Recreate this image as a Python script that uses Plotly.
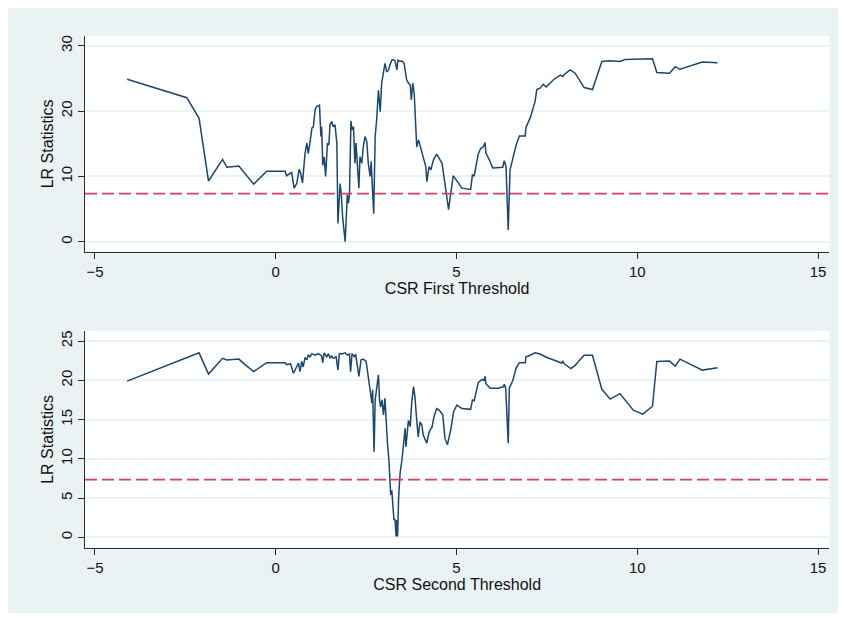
import plotly.graph_objects as go

# ---------------- data ----------------
x_first = [-4.11, -2.46, -2.12, -1.86, -1.47, -1.35, -1.02, -0.85, -0.61, -0.25, 0.26, 0.30, 0.44, 0.51, 0.58,
           0.65, 0.69, 0.74, 0.76, 0.81, 0.86, 0.90, 0.95, 1.00, 1.04, 1.09, 1.13, 1.21, 1.25, 1.27, 1.30, 1.34,
           1.38, 1.43, 1.47, 1.50, 1.55, 1.59, 1.64, 1.69, 1.72, 1.78, 1.81, 1.85, 1.92, 1.95, 1.98, 2.01, 2.04,
           2.08, 2.11, 2.15, 2.19, 2.22, 2.26, 2.30, 2.33, 2.38, 2.42, 2.47, 2.52, 2.56, 2.61, 2.64, 2.67, 2.71,
           2.75, 2.79, 2.84, 2.89, 2.93, 2.98, 3.02, 3.07, 3.12, 3.16, 3.21, 3.25, 3.30, 3.35, 3.38, 3.44, 3.49,
           3.55, 3.62, 3.67, 3.72, 3.75, 3.79, 3.83, 3.90, 3.95, 4.08, 4.15, 4.18, 4.24, 4.29, 4.36, 4.45, 4.55,
           4.60, 4.68, 4.78, 4.84, 4.91, 4.96, 5.15, 5.39, 5.44, 5.49, 5.60, 5.67, 5.74, 5.79, 5.81, 5.91, 6.00,
           6.28, 6.32, 6.37, 6.43, 6.48, 6.56, 6.65, 6.74, 6.90, 6.92, 7.04, 7.17, 7.22, 7.31, 7.40, 7.48, 7.68,
           7.87, 7.94, 7.98, 8.14, 8.28, 8.53, 8.76, 9.02, 9.25, 9.52, 9.66, 10.08, 10.42, 10.54, 10.89, 11.05,
           11.18, 11.80, 12.22]
lr_first = [24.87, 22.05, 18.9, 9.3, 12.6, 11.4, 11.6, 10.4, 8.8, 10.78, 10.78, 10.1, 10.6, 8.2, 8.9,
            11.1, 10.5, 9.0, 10.5, 13.5, 15.1, 13.5, 15.3, 17.4, 17.6, 20.2, 20.7, 20.9, 16.1, 17.6, 11.7, 13.0,
            10.0, 15.1, 14.8, 17.9, 18.4, 17.6, 17.9, 15.1, 2.8, 8.9, 7.4, 3.8, 0.0, 4.3, 7.2, 5.9, 7.4,
            18.5, 17.1, 17.6, 12.0, 15.1, 10.5, 8.2, 13.0, 12.0, 14.5, 16.1, 15.3, 12.0, 10.0, 12.3, 8.7, 4.3,
            16.1, 18.6, 23.2, 19.9, 24.3, 25.8, 27.3, 26.0, 26.3, 27.1, 27.8, 27.9, 27.7, 26.3, 27.8, 27.6, 27.7,
            27.3, 24.8, 24.3, 24.0, 21.7, 24.3, 22.7, 14.5, 15.6, 13.0, 11.5, 9.2, 11.5, 11.0, 12.5, 13.4, 12.3,
            12.0, 8.9, 4.9, 7.4, 10.1, 9.7, 8.2, 8.0, 10.2, 10.1, 13.4, 14.3, 14.5, 15.2, 13.6, 12.5, 11.3,
            11.4, 12.4, 11.5, 1.8, 11.0, 12.8, 14.8, 16.2, 16.2, 17.5, 19.0, 21.4, 23.3, 23.5, 24.1, 23.7, 24.8,
            25.5, 25.3, 25.6, 26.3, 25.8, 23.6, 23.3, 27.6, 27.7, 27.6, 27.9, 28.0, 28.0, 25.9, 25.8, 26.8,
            26.4, 27.5, 27.4]

x_second = [-4.11, -2.12, -1.86, -1.47, -1.35, -1.02, -0.85, -0.61, -0.25, 0.26, 0.30, 0.41, 0.49, 0.58, 0.63,
            0.67, 0.72, 0.76, 0.81, 0.86, 0.90, 0.95, 1.00, 1.09, 1.18, 1.27, 1.30, 1.34, 1.41, 1.46, 1.50,
            1.55, 1.59, 1.67, 1.72, 1.76, 1.83, 1.92, 1.98, 2.04, 2.07, 2.11, 2.17, 2.21, 2.27, 2.30, 2.36,
            2.42, 2.50, 2.56, 2.61, 2.66, 2.68, 2.72, 2.75, 2.79, 2.84, 2.87, 2.90, 2.94, 2.98, 3.02, 3.05,
            3.09, 3.13, 3.16, 3.18, 3.21, 3.24, 3.27, 3.30, 3.33, 3.35, 3.37, 3.40, 3.44, 3.49, 3.53, 3.58,
            3.60, 3.64, 3.67, 3.72, 3.76, 3.81, 3.85, 3.90, 3.94, 3.99, 4.04, 4.08, 4.18, 4.22, 4.27, 4.32,
            4.38, 4.45, 4.52, 4.62, 4.68, 4.75, 4.84, 4.92, 5.01, 5.15, 5.39, 5.44, 5.49, 5.60, 5.70, 5.76,
            5.79, 5.81, 5.93, 6.16, 6.30, 6.32, 6.36, 6.43, 6.46, 6.56, 6.65, 6.74, 6.90, 6.92, 6.99, 7.17,
            7.31, 7.50, 7.73, 7.91, 7.94, 7.98, 8.16, 8.28, 8.37, 8.53, 8.76, 9.02, 9.25, 9.52, 9.89, 10.15,
            10.42, 10.54, 10.89, 11.05, 11.18, 11.80, 12.22]
lr_second = [19.9, 23.5, 20.8, 22.8, 22.6, 22.7, 22.0, 21.1, 22.25, 22.25, 22.0, 22.1, 20.9, 21.7, 22.2,
             21.1, 22.4, 21.7, 22.9, 22.6, 23.2, 23.0, 23.4, 23.2, 23.4, 23.1, 22.25, 23.5, 23.0, 23.4, 22.8,
             23.1, 22.8, 23.0, 21.3, 23.4, 23.35, 23.5, 23.2, 23.35, 21.1, 23.4, 23.0, 23.3, 21.7, 20.5, 22.6,
             22.7, 22.4, 20.5, 19.0, 17.1, 18.8, 10.9, 17.5, 18.8, 20.7, 17.5, 16.6, 17.5, 15.6, 17.7, 14.9,
             12.0, 9.85, 7.5, 5.4, 6.0, 3.1, 2.2, 2.3, 0.1, 2.2, 0.1, 5.2, 8.2, 9.85, 11.5, 13.9,
             11.5, 13.9, 14.9, 14.1, 17.1, 19.2, 17.9, 14.9, 12.8, 14.7, 14.3, 13.0, 12.0, 13.0, 13.7, 14.0,
             15.4, 16.4, 16.2, 15.6, 12.6, 11.8, 13.7, 16.0, 16.85, 16.4, 16.3, 17.5, 17.4, 19.7, 20.1, 20.0,
             20.5, 19.6, 19.0, 19.0, 19.2, 19.5, 19.0, 12.0, 19.0, 20.0, 21.6, 22.25, 22.25, 23.0, 23.1, 23.5,
             23.35, 22.9, 22.45, 22.2, 22.4, 22.1, 21.5, 21.9, 22.4, 23.2, 23.2, 18.85, 17.6, 18.3, 16.2, 15.7,
             16.7, 22.4, 22.45, 21.8, 22.7, 21.3, 21.6]

critical_value = 7.35
x_ticks = [-5, 0, 5, 10, 15]
y_ticks_first = [0, 10, 20, 30]
y_ticks_second = [0, 5, 10, 15, 20, 25]
x_titles = ["CSR First Threshold", "CSR Second Threshold"]
y_title = "LR Statistics"

# ---------------- style ----------------
OFF = 8            # page body margin in the browser
W, H = 831, 605    # figure size (page offset by body margin)
BG = "#EAF2F3"
LINE = "#1a476f"
CRIT = "#d3425f"
AX = "#2b2b2b"
FONT = "Liberation Sans, Arial, sans-serif"


def px_x(a, b):
    return [(a - OFF) / W, (b - OFF) / W]


def px_y(top, bottom):
    return [1 - (bottom - OFF) / H, 1 - (top - OFF) / H]


fig = go.Figure()
fig.add_trace(go.Scatter(x=x_first, y=lr_first, mode="lines", line=dict(color=LINE, width=1.5),
                         xaxis="x", yaxis="y", showlegend=False))
fig.add_trace(go.Scatter(x=x_second, y=lr_second, mode="lines", line=dict(color=LINE, width=1.5),
                         xaxis="x2", yaxis="y2", showlegend=False))

common_x = dict(range=[-5.275, 15.31], tickvals=x_ticks, ticks="outside", ticklen=6, tickwidth=1,
                tickcolor=AX, showline=True, linecolor=AX, linewidth=1, showgrid=False, zeroline=False,
                tickfont=dict(family=FONT, size=15, color="#111"),
                title_font=dict(family=FONT, size=16, color="#111"), title_standoff=0)
common_y = dict(ticks="outside", ticklen=6, tickwidth=1, tickcolor=AX, showline=True, linecolor=AX,
                linewidth=1, showgrid=True, gridcolor=BG, gridwidth=1.5, zeroline=False, tickangle=-90,
                tickfont=dict(family=FONT, size=15, color="#111"),
                title_font=dict(family=FONT, size=16, color="#111"), title_standoff=0)

fig.update_layout(
    width=W, height=H, margin=dict(l=0, r=0, t=0, b=0),
    paper_bgcolor=BG, plot_bgcolor="white",
    xaxis=dict(domain=px_x(85, 829.3), anchor="y", title_text=x_titles[0], **common_x),
    yaxis=dict(domain=px_y(36, 251.7), anchor="x", range=[-1.53, 31.5], tickvals=y_ticks_first,
               title_text=y_title, **common_y),
    xaxis2=dict(domain=px_x(85, 829.3), anchor="y2", title_text=x_titles[1], **common_x),
    yaxis2=dict(domain=px_y(331, 547.7), anchor="x2", range=[-1.32, 26.28], tickvals=y_ticks_second,
                title_text=y_title, **common_y),
    shapes=[
        dict(type="line", xref="x domain", yref="y", x0=0, x1=1, y0=critical_value, y1=critical_value,
             line=dict(color=CRIT, width=1.8, dash="12px,5px")),
        dict(type="line", xref="x2 domain", yref="y2", x0=0, x1=1, y0=critical_value, y1=critical_value,
             line=dict(color=CRIT, width=1.8, dash="12px,5px")),
    ],
)

fig.write_html("out.html")
